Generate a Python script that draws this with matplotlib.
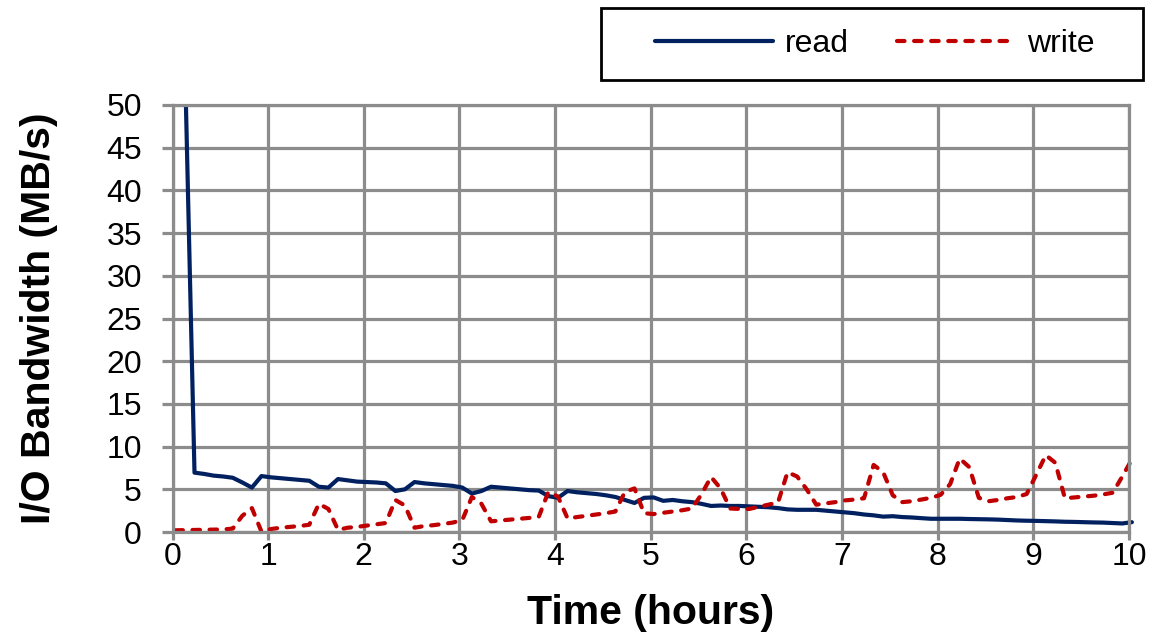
import matplotlib.pyplot as plt
import numpy as np
from matplotlib.patches import Rectangle
from matplotlib.transforms import Bbox, TransformedBbox

plt.rcParams['font.family'] = ['Liberation Sans', 'DejaVu Sans']

# I/O bandwidth in MB/s, one sample every 6 minutes
read_mbs = [100, 55, 6.95, 6.8, 6.6, 6.5, 6.35, 5.8, 5.2, 6.55,
            6.4, 6.3, 6.2, 6.1, 6.0, 5.3, 5.2, 6.2, 6.05, 5.9,
            5.85, 5.8, 5.7, 4.8, 5.0, 5.85, 5.7, 5.6, 5.5, 5.4,
            5.2, 4.5, 4.8, 5.3, 5.2, 5.1, 5.0, 4.9, 4.85, 4.2,
            4.0, 4.8, 4.65, 4.55, 4.45, 4.3, 4.1, 3.75, 3.4, 4.0,
            4.05, 3.65, 3.75, 3.6, 3.5, 3.3, 3.05, 3.1, 3.05, 3.05,
            3.0, 2.95, 2.9, 2.8, 2.65, 2.6, 2.6, 2.6, 2.5, 2.4,
            2.3, 2.2, 2.05, 1.95, 1.8, 1.85, 1.75, 1.7, 1.62, 1.55,
            1.55, 1.55, 1.55, 1.52, 1.5, 1.48, 1.45, 1.4, 1.35, 1.32,
            1.3, 1.27, 1.24, 1.2, 1.18, 1.15, 1.12, 1.1, 1.05, 1.0,
            1.15]
write_mbs = [0.2, 0.22, 0.24, 0.26, 0.28, 0.3, 0.4, 1.9, 2.8, 0.05,
             0.35, 0.5, 0.6, 0.7, 0.85, 3.3, 2.7, 0.25, 0.5, 0.6,
             0.75, 0.9, 1.05, 3.75, 3.1, 0.5, 0.7, 0.8, 0.95, 1.1,
             1.4, 4.1, 3.3, 1.25, 1.35, 1.45, 1.55, 1.65, 1.8, 4.7,
             4.15, 1.6, 1.75, 1.9, 2.05, 2.2, 2.4, 4.7, 5.1, 2.2,
             2.1, 2.25, 2.4, 2.55, 2.75, 4.4, 6.45, 5.1, 2.75, 2.7,
             2.7, 2.95, 3.2, 3.45, 7.0, 6.5, 5.0, 3.2, 3.35, 3.5,
             3.7, 3.8, 3.95, 7.85, 7.0, 4.3, 3.5, 3.6, 3.8, 4.0,
             4.35, 5.6, 8.6, 7.6, 4.0, 3.6, 3.75, 3.95, 4.1, 4.45,
             6.7, 9.0, 8.1, 3.95, 4.05, 4.15, 4.25, 4.4, 4.6, 6.5,
             8.5]
hours = np.round(0.03 + 0.1 * np.arange(len(read_mbs)), 2)

x_ticks = list(range(0, 11))
y_ticks = list(range(0, 51, 5))

grid_c = '#8c8c8c'

fig = plt.figure(figsize=(11.61, 6.43), dpi=100)
ax = fig.add_axes([172.5 / 1161, 1 - 532 / 643, (1129 - 172.5) / 1161, (532 - 105) / 643])

l1, = ax.plot(hours, read_mbs, color='#002060', lw=3.0, label='read',
              solid_joinstyle='round', solid_capstyle='round')
l2, = ax.plot(hours, write_mbs, color='#c00000', lw=3.0, label='write',
              dashes=(1.8, 2.3), dash_capstyle='round', dash_joinstyle='round')

ax.set_xlim(0, 10)
ax.set_ylim(0, 50)
clip = TransformedBbox(Bbox([[-0.2, -1], [10.2, 50]]), ax.transData)
l1.set_clip_box(clip)
l2.set_clip_box(clip)

ax.set_xticks(x_ticks)
ax.set_yticks(y_ticks)
ax.grid(True, color=grid_c, lw=2.3)
ax.set_axisbelow(True)
for s in ax.spines.values():
    s.set_color(grid_c)
    s.set_linewidth(2.3)
ax.tick_params(axis='both', color=grid_c, width=2.3, labelsize=23, labelcolor='black')
ax.tick_params(axis='y', length=8, pad=14)
ax.tick_params(axis='x', length=6, pad=1.5)

ax.set_xlabel('Time (hours)', fontsize=29.5, fontweight='bold')
ax.xaxis.set_label_coords(0.5, (532 - 594) / 427)
ax.set_ylabel('I/O Bandwidth (MB/s)', fontsize=29.5, fontweight='bold')
ax.yaxis.set_label_coords((58 - 172.5) / 956.5, 0.5)

fig.legend(handles=[l1, l2], loc='center', ncol=2, frameon=False, fontsize=23,
           handlelength=3.7, handletextpad=0.37, columnspacing=1.5,
           bbox_to_anchor=(875 / 1161, 1 - 44 / 643))
fig.add_artist(Rectangle((601 / 1161, 1 - 80 / 643), (1143 - 601) / 1161, 72 / 643,
                         transform=fig.transFigure, fill=False, ec='black', lw=2))

fig.savefig('out.png', dpi=100)
